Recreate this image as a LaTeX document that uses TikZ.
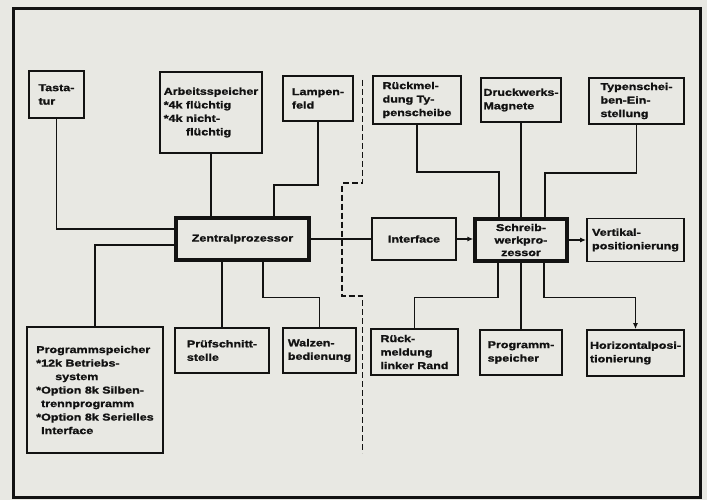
\documentclass[tikz,border=0pt]{standalone}
\usepackage{fontspec}
\usepackage{tikz}
\usetikzlibrary{arrows.meta,positioning,calc}
\usepackage{xcolor}
\newfontfamily\blockfont{Liberation Sans}[FakeStretch=1.25,FakeBold=1.4]
\definecolor{paper}{RGB}{232,232,227}
\definecolor{ink}{RGB}{18,18,18}

\begin{document}
\begin{tikzpicture}[x=1pt,y=-1pt,
    box/.style 2 args={draw=ink,line width=1.8pt,minimum width=#1pt,minimum height=#2pt,
      inner sep=2pt,align=left,text=ink,font=\blockfont\bfseries\fontsize{10}{13.5}\selectfont},
    cpu/.style={line width=3.2pt},
    wire/.style={draw=ink,line width=1.6pt},
    arr/.style={wire,-{Latex[length=6pt,width=5pt]}}]
        \fill[paper] (0,0) rectangle (707,500);
        \useasboundingbox (0,0) rectangle (707,500);
        \draw[ink,line width=3pt] (13,9) rectangle (700,497);
        \node[box={55}{47}] (tast) at (56.5,94.5) {Tasta-\\tur};
        \node[box={102}{81}] (arb) at (211,112.5) {Arbeitsspeicher\\*4k flüchtig\\*4k nicht-\\\phantom{*4k }flüchtig};
        \node[box={70}{45}] (lamp) at (318,98.5) {Lampen-\\feld};
        \node[box={133}{42},cpu] (zp) at (242.5,239) {Zentralprozessor};
        \node[box={136}{126}] (pl) at (95,390) {Programmspeicher\\*12k Betriebs-\\\hspace{19pt}system\\*Option 8k Silben-\\\phantom{*}trennprogramm\\*Option 8k Serielles\\\phantom{*}Interface};
        \node[box={94}{45}] (pruef) at (222,350.5) {Prüfschnitt-\\stelle};
        \node[box={73}{45}] (walz) at (319.5,350.5) {Walzen-\\bedienung};
        \node[box={88}{48}] (rt) at (417,100) {Rückmel-\\dung Ty-\\penscheibe};
        \node[box={80}{44}] (dm) at (521,100) {Druckwerks-\\Magnete};
        \node[box={95}{46}] (te) at (636.5,101) {Typenschei-\\ben-Ein-\\stellung};
        \node[box={84}{42}] (iface) at (414,239) {Interface};
        \node[box={92}{42},cpu,align=center,inner sep=1pt,font=\blockfont\bfseries\fontsize{10}{12.5}\selectfont] (sw) at (521,240) {Schreib-\\werkpro-\\zessor};
        \node[box={97}{43}] (vert) at (635.5,240) {Vertikal-\\positionierung};
        \node[box={87}{46}] (rl) at (414.5,352) {Rück-\\meldung\\linker Rand};
        \node[box={82}{45}] (pr) at (521,352.5) {Programm-\\speicher};
        \node[box={97}{46}] (hp) at (635.5,353) {Horizontalposi-\\tionierung};
        \draw[wire] (tast.south) |- ([yshift=10pt]zp.west);
        \draw[wire] (arb.south) -- (arb.south |- zp.north);
        \draw[wire] (lamp.south) -- ++(0,63) -| ([xshift=31.5pt]zp.north);
        \draw[wire] (pl.north) |- ([yshift=-6pt]zp.west);
        \draw[wire] (zp.south -| pruef.north) -- (pruef.north);
        \draw[wire] ([xshift=20.5pt]zp.south) -- ++(0,36) -| (walz.north);
        \draw[wire] (zp.east) -- (iface.west);
        \draw[arr] (iface.east) -- (iface.east -| sw.west);
        \draw[arr] (sw.east) -- (sw.east -| vert.west);
        \draw[wire] (rt.south) -- ++(0,47) -| ([xshift=-22pt]sw.north);
        \draw[wire] (dm.south) -- (sw.north);
        \draw[wire] (te.south) -- ++(0,48) -| ([xshift=24pt]sw.north);
        \draw[wire] ([xshift=-23pt]sw.south) -- ++(0,35) -| (rl.north);
        \draw[wire] (sw.south) -- (pr.north);
        \draw[arr] ([xshift=23pt]sw.south) -- ++(0,35) -| (hp.north);
        \draw[ink,line width=1.4pt,dash pattern=on 6pt off 3pt]
          (362.5,80) -- (362.5,183) -- (342,183) -- (342,296) -- (362.5,296) -- (362.5,453);
      \end{tikzpicture}
\end{document}
